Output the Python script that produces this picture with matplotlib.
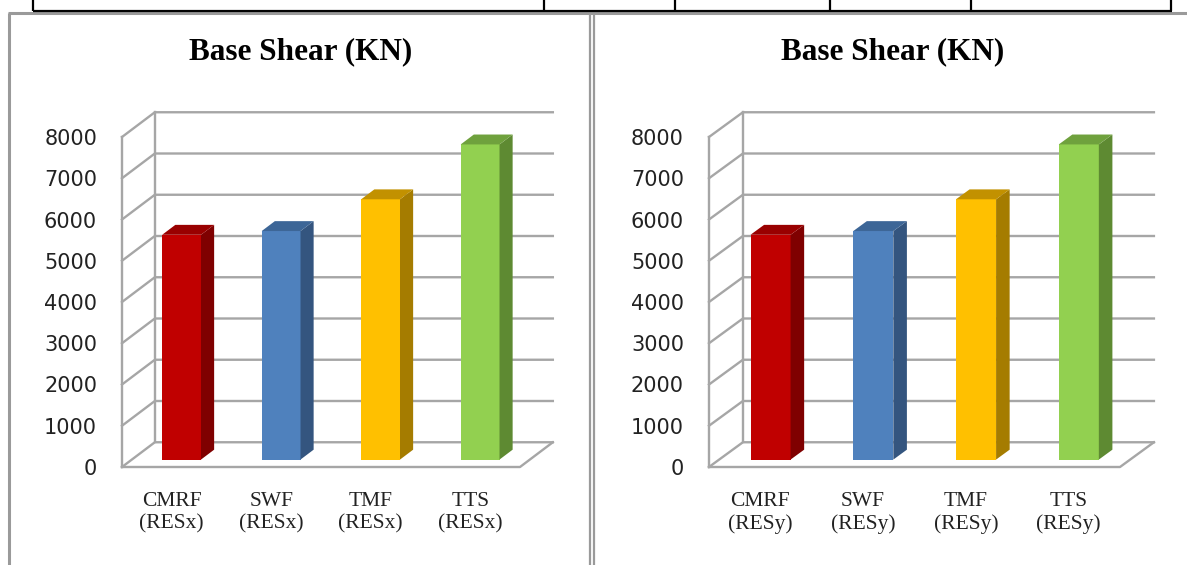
import matplotlib
matplotlib.use('Agg')
import matplotlib.pyplot as plt
from matplotlib.patches import Polygon
from matplotlib.lines import Line2D

W, H = 1187, 565

# Base shear for each structural system, in KN
categories = ['CMRF', 'SWF', 'TMF', 'TTS']
base_shear_x = [5450, 5540, 6310, 7640]
base_shear_y = [5450, 5540, 6310, 7640]
y_ticks = [0, 1000, 2000, 3000, 4000, 5000, 6000, 7000, 8000]

front_colors = ['#C00000', '#4F81BD', '#FFC000', '#92D050']
side_colors = ['#7F0000', '#34557F', '#A57C00', '#5E8A32']
top_colors = ['#990000', '#3D6697', '#C29100', '#6FA13D']

DX, DY = 0.33, 600      # offset of the back wall (category units, KN)
T0, T1 = 0.3, 0.7       # depth range occupied by the columns
BAR_W = 0.39
GRID = '#a6a6a6'
BORDER = '#9a9a9a'


def fx(px):
    return px / W


def fy(py):
    return 1 - py / H


def line(fig, xs, ys, color, lw):
    fig.add_artist(Line2D([fx(x) for x in xs], [fy(y) for y in ys],
                          color=color, lw=lw, transform=fig.transFigure,
                          solid_capstyle='butt'))


def draw_panel(fig, left_px, unit_px, values, suffix, title_x):
    n = len(categories)
    xmax, ymax = 4.5, 9000
    px_per_val = 330 / 8000
    ax = fig.add_axes([fx(left_px), fy(467), xmax * unit_px / W,
                       ymax * px_per_val / H])
    ax.set_xlim(0, xmax)
    ax.set_ylim(0, ymax)
    ax.patch.set_visible(False)
    for s in ax.spines.values():
        s.set_visible(False)

    # walls and floor
    for v in y_ticks:
        ax.plot([0, DX, n + DX], [v, v + DY, v + DY], color=GRID, lw=1.7,
                clip_on=False, zorder=1)
    ax.plot([0, 0], [0, y_ticks[-1]], color=GRID, lw=1.7, clip_on=False, zorder=1)
    ax.plot([DX, DX], [DY, y_ticks[-1] + DY], color=GRID, lw=1.7,
            clip_on=False, zorder=1)
    ax.plot([0, n, n + DX], [0, 0, DY], color=GRID, lw=1.7, clip_on=False, zorder=1)

    # columns: front face as bars, side and top as polygons
    centers = [i + 0.5 + T0 * DX for i in range(n)]
    base = T0 * DY
    ax.bar(centers, values, width=BAR_W, bottom=base, color=front_colors,
           linewidth=0, zorder=3)
    ddx, ddy = (T1 - T0) * DX, (T1 - T0) * DY
    for c, v, sc, tc in zip(centers, values, side_colors, top_colors):
        r, l = c + BAR_W / 2, c - BAR_W / 2
        ax.add_patch(Polygon([(r, base), (r + ddx, base + ddy),
                              (r + ddx, base + ddy + v), (r, base + v)],
                             closed=True, facecolor=sc, lw=0, zorder=3))
        ax.add_patch(Polygon([(l, base + v), (r, base + v),
                              (r + ddx, base + ddy + v), (l + ddx, base + ddy + v)],
                             closed=True, facecolor=tc, lw=0, zorder=3))

    ax.set_yticks(y_ticks)
    ax.set_yticklabels([str(v) for v in y_ticks], fontsize=15,
                       family='DejaVu Sans', color='#222222')
    ax.set_xticks([i + 0.5 for i in range(n)])
    ax.set_xticklabels([f'{c}\n(RES{suffix})' for c in categories],
                       fontsize=15.5, family='Liberation Serif', color='#222222')
    ax.tick_params(axis='y', length=0, pad=18)
    ax.tick_params(axis='x', length=0, pad=18)

    fig.text(fx(title_x), fy(52), 'Base Shear (KN)', ha='center', va='center',
             fontsize=22.5, fontweight='bold', family='Liberation Serif')
    return ax


fig = plt.figure(figsize=(W / 100, H / 100), dpi=100)
fig.patch.set_facecolor('white')

draw_panel(fig, 122, 99.5, base_shear_x, 'x', 301)
draw_panel(fig, 709, 102.75, base_shear_y, 'y', 893)

# panel borders
line(fig, [9, 9], [13, H + 5], BORDER, 2.2)
line(fig, [8, W + 5], [13, 13], BORDER, 2.2)
line(fig, [589.5, 589.5], [13, H + 5], BORDER, 1.6)
line(fig, [593.5, 593.5], [13, H + 5], BORDER, 1.6)

# table row above the charts
line(fig, [33, 1172], [10.5, 10.5], 'black', 1.6)
for x in [33, 544, 675, 830, 971, 1171]:
    line(fig, [x, x], [-2, 10.5], 'black', 1.6)

fig.savefig('out.png', dpi=100, facecolor='white')
